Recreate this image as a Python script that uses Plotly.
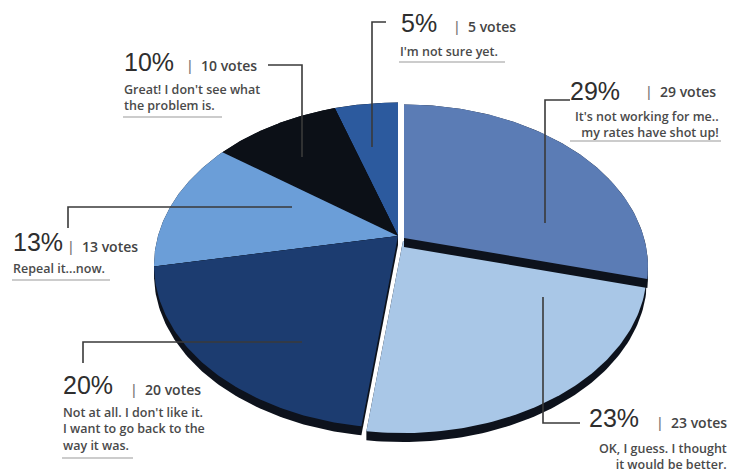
import numpy as np
import plotly.graph_objects as go

# ---------------- data ----------------
percents = [29, 23, 20, 13, 10, 5]
votes = [29, 23, 20, 13, 10, 5]
answers = [
    "It's not working for me..<br>my rates have shot up!",
    "OK, I guess. I thought<br>it would be better.",
    "Not at all. I don't like it.<br>I want to go back to the<br>way it was.",
    "Repeal it...now.",
    "Great! I don't see what<br>the problem is.",
    "I'm not sure yet.",
]

# ---------------- styles ----------------
colors = ["#5b7cb5", "#a9c7e7", "#1c3c70", "#6b9ed8", "#0c1017", "#2c5a9e"]
side_color = "#0d121c"
W, H = 732, 474
CX, CY = 398, 236          # apex of the tilted pie (pixels)
RA, RB, PERS = 240, 157.5, 0.18
DEPTH = 9
explode = {0: (6, 2), 1: (5, 5)}
draw_order = [5, 4, 3, 2, 1, 0]


def rim(theta):
    d = 1 + PERS * np.cos(theta)
    return CX + RA * np.sin(theta) / d, CY - RB * np.cos(theta) / d


def hull(pts):
    pts = sorted(set(pts))
    def cross(o, a, b):
        return (a[0]-o[0])*(b[1]-o[1]) - (a[1]-o[1])*(b[0]-o[0])
    lower, upper = [], []
    for p in pts:
        while len(lower) >= 2 and cross(lower[-2], lower[-1], p) <= 0:
            lower.pop()
        lower.append(p)
    for p in reversed(pts):
        while len(upper) >= 2 and cross(upper[-2], upper[-1], p) <= 0:
            upper.pop()
        upper.append(p)
    return lower[:-1] + upper[:-1]


total = sum(percents)
cum = np.concatenate([[0], np.cumsum(percents)]) / total * 2 * np.pi

fig = go.Figure()
for i in draw_order:
    t = np.linspace(cum[i], cum[i + 1], 80)
    rx, ry = rim(t)
    dx, dy = explode.get(i, (0, 0))
    xs = np.concatenate([[CX], rx, [CX]]) + dx
    ys = np.concatenate([[CY], ry, [CY]]) + dy
    pts = [(round(float(a), 3), round(float(b), 3)) for a, b in zip(xs, ys)]
    pts += [(a, round(b + DEPTH, 3)) for a, b in pts]
    hp = hull(pts)
    hx = [p[0] for p in hp] + [hp[0][0]]
    hy = [p[1] for p in hp] + [hp[0][1]]
    fig.add_trace(go.Scatter(x=hx, y=hy, mode="lines", fill="toself",
                             fillcolor=side_color, line=dict(width=0),
                             hoverinfo="skip", showlegend=False))
    fig.add_trace(go.Scatter(x=xs, y=ys, mode="lines", fill="toself",
                             fillcolor=colors[i], line=dict(width=0),
                             name=f"{percents[i]}%", hoverinfo="name",
                             showlegend=False))

# ---------------- labels (layout positions in pixels) ----------------
label_pos = {
    0: dict(p=(568, 91), v=(643, 92), d=(721, 124, "right"), u=(570, 721, 141),
            leader="M 570 100 L 545 100 L 545 223"),
    1: dict(p=(587, 418), v=(654, 422), d=(729, 456, "right"), u=None,
            leader="M 543 297 L 543 423 L 580 423"),
    2: dict(p=(61, 385), v=(128, 389), d=(61, 429, "left"), u=(62, 133, 458),
            leader="M 83 363 L 83 342 L 302 342"),
    3: dict(p=(11, 242), v=(65, 247), d=(11, 268, "left"), u=(12, 110, 280),
            leader="M 68 228 L 68 207 L 292 207"),
    4: dict(p=(122, 62), v=(184, 66), d=(122, 97, "left"), u=(123, 222, 117),
            leader="M 268 65 L 302 65 L 302 157"),
    5: dict(p=(399, 23), v=(451, 27), d=(398, 51, "left"), u=(399, 505, 62),
            leader="M 386 22 L 372 22 L 372 147"),
}


def px(x):
    return x / W


def py(y):
    return 1 - y / H


for i, lp in label_pos.items():
    fig.add_annotation(x=px(lp["p"][0]), y=py(lp["p"][1]), xref="paper", yref="paper",
                       text=f"{percents[i]}%", showarrow=False,
                       xanchor="left", yanchor="middle",
                       font=dict(family="Liberation Sans", size=25, color="#2e2e2e"))
    fig.add_annotation(x=px(lp["v"][0]), y=py(lp["v"][1]), xref="paper", yref="paper",
                       text=f"<span style='color:#777'>|</span>&nbsp;&nbsp;{votes[i]} votes",
                       showarrow=False, xanchor="left", yanchor="middle",
                       font=dict(family="Open Sans", size=14, color="#444",
                                 weight=600))
    dx_, dy_, al = lp["d"]
    fig.add_annotation(x=px(dx_), y=py(dy_), xref="paper", yref="paper", text=answers[i],
                       showarrow=False, align=al,
                       xanchor="left" if al == "left" else "right",
                       yanchor="middle",
                       font=dict(family="Open Sans", size=12.5, color="#4a4a4a",
                                 weight=600))
    if lp["u"]:
        x0, x1, yy = lp["u"]
        fig.add_shape(type="line", x0=x0, x1=x1, y0=yy, y1=yy, xref="x",
                      yref="y", line=dict(color="#9a9a9a", width=1.2))
    fig.add_shape(type="path", path=lp["leader"], xref="x", yref="y",
                  line=dict(color="#3a3a3a", width=1.6))

fig.update_layout(
    width=W, height=H, margin=dict(l=0, r=0, t=0, b=0),
    paper_bgcolor="white", plot_bgcolor="white",
    xaxis=dict(range=[0, W], visible=False, fixedrange=True),
    yaxis=dict(range=[H, 0], visible=False, fixedrange=True),
    showlegend=False,
)

fig.write_html("out.html")
